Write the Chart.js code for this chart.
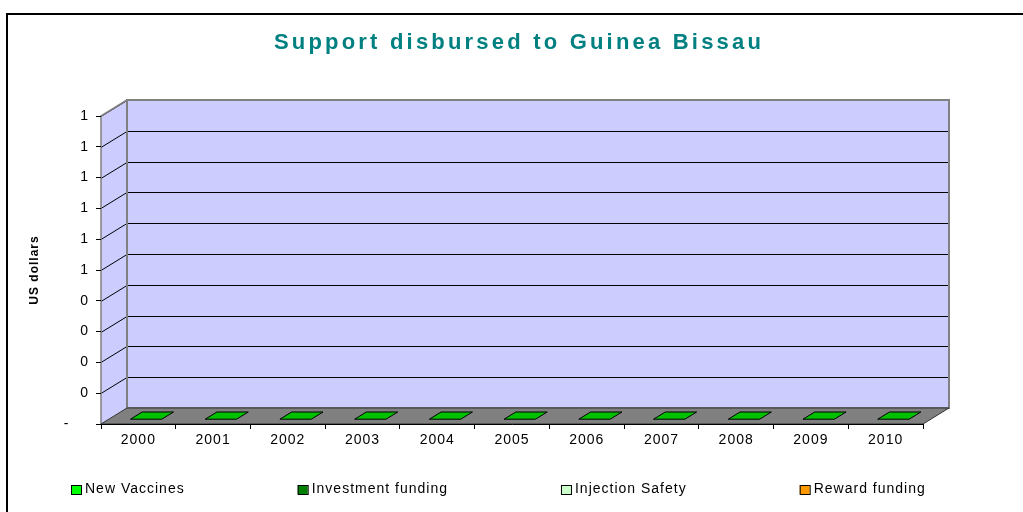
<!DOCTYPE html>
<html>
<head>
<meta charset="utf-8">
<title>Support disbursed to Guinea Bissau</title>
<script src="https://cdn.jsdelivr.net/npm/chart.js@4/dist/chart.umd.min.js"></script>
<style>
  html, body { margin: 0; padding: 0; background: #ffffff; overflow: hidden; }
  canvas { display: block; }
</style>
</head>
<body>
<canvas id="chart" width="1023" height="512"></canvas>
<script>
// Values (every series is zero)
const years = ["2000", "2001", "2002", "2003", "2004", "2005", "2006", "2007", "2008", "2009", "2010"];
const new_vaccines = [0, 0, 0, 0, 0, 0, 0, 0, 0, 0, 0];
const investment_funding = [0, 0, 0, 0, 0, 0, 0, 0, 0, 0, 0];
const injection_safety = [0, 0, 0, 0, 0, 0, 0, 0, 0, 0, 0];
const reward_funding = [0, 0, 0, 0, 0, 0, 0, 0, 0, 0, 0];
const y_max = 1;
const y_step = 0.1;

const chart_title = "Support disbursed to Guinea Bissau";
const font_family = "Arial, 'Liberation Sans', sans-serif";

// 3D look: offset of the back wall from the front plane
const depth_x = 26;
const depth_y = -16;

function show_error(e) {
  console.error(e);
}

function y_label(value) {
  if (value === 0) {
    return "-    ";
  }
  return Math.round(value).toLocaleString("en-US");
}

const walls_plugin = {
  id: "walls",
  beforeDraw(chart) {
    const ctx = chart.ctx;
    const area = chart.chartArea;
    const y_scale = chart.scales.y;
    const left = area.left;
    const right = area.right;
    const top = y_scale.getPixelForValue(y_max);
    const bottom = y_scale.getPixelForValue(0);

    ctx.save();
    ctx.fillStyle = "#ffffff";
    ctx.fillRect(0, 0, chart.width, chart.height);

    // outer frame
    ctx.strokeStyle = "#000000";
    ctx.lineWidth = 2;
    ctx.strokeRect(7, 14, chart.width + 50, chart.height + 50);

    // back wall
    ctx.fillStyle = "#ccccff";
    ctx.fillRect(left + depth_x, top + depth_y, right - left, bottom - top);

    // side wall
    ctx.beginPath();
    ctx.moveTo(left, top);
    ctx.lineTo(left + depth_x, top + depth_y);
    ctx.lineTo(left + depth_x, bottom + depth_y);
    ctx.lineTo(left, bottom);
    ctx.closePath();
    ctx.fill();

    // grid lines on both walls
    ctx.strokeStyle = "#000000";
    ctx.lineWidth = 1;
    y_scale.ticks.forEach(function (tick) {
      if (tick.value <= 0) {
        return;
      }
      const py = Math.round(y_scale.getPixelForValue(tick.value)) + 0.5;
      ctx.beginPath();
      ctx.moveTo(left, py);
      ctx.lineTo(left + depth_x, py + depth_y);
      ctx.lineTo(right + depth_x, py + depth_y);
      ctx.stroke();
    });

    // wall outlines
    ctx.strokeStyle = "#808080";
    ctx.lineWidth = 2;
    ctx.strokeRect(left + depth_x, top + depth_y, right - left, bottom - top);
    ctx.lineWidth = 1.5;
    ctx.beginPath();
    ctx.moveTo(left, bottom);
    ctx.lineTo(left, top);
    ctx.lineTo(left + depth_x, top + depth_y);
    ctx.stroke();

    // floor
    ctx.fillStyle = "#808080";
    ctx.strokeStyle = "#333333";
    ctx.lineWidth = 1;
    ctx.beginPath();
    ctx.moveTo(left, bottom);
    ctx.lineTo(left + depth_x, bottom + depth_y);
    ctx.lineTo(right + depth_x, bottom + depth_y);
    ctx.lineTo(right, bottom);
    ctx.closePath();
    ctx.fill();
    ctx.stroke();
    ctx.restore();

    // spacing used by every label drawn after this point
    ctx.letterSpacing = "1px";
  },
  afterDatasetsDraw(chart) {
    // flat top faces of the (zero height) stacked columns
    const ctx = chart.ctx;
    const meta = chart.getDatasetMeta(0);
    const near = 0.3;
    const far = 0.75;
    ctx.save();
    ctx.fillStyle = "#00c000";
    ctx.strokeStyle = "#000000";
    ctx.lineWidth = 1;
    meta.data.forEach(function (bar) {
      const half = bar.width / 2;
      ctx.beginPath();
      ctx.moveTo(bar.x - half + depth_x * near, bar.y + depth_y * near);
      ctx.lineTo(bar.x + half + depth_x * near, bar.y + depth_y * near);
      ctx.lineTo(bar.x + half + depth_x * far, bar.y + depth_y * far);
      ctx.lineTo(bar.x - half + depth_x * far, bar.y + depth_y * far);
      ctx.closePath();
      ctx.fill();
      ctx.stroke();
    });
    ctx.restore();
  },
  afterDraw(chart) {
    const ctx = chart.ctx;

    // title
    ctx.save();
    ctx.letterSpacing = "3.2px";
    ctx.font = "bold 22px " + font_family;
    ctx.fillStyle = "#008080";
    ctx.textAlign = "center";
    ctx.textBaseline = "middle";
    ctx.fillText(chart_title, 519, 43);
    ctx.restore();

    // legend along the bottom
    ctx.save();
    ctx.letterSpacing = "1px";
    ctx.font = "14px " + font_family;
    ctx.textAlign = "left";
    ctx.textBaseline = "middle";
    let x = 71;
    const y = 489;
    chart.data.datasets.forEach(function (ds) {
      ctx.fillStyle = ds.backgroundColor;
      ctx.fillRect(x, 485, 10, 9);
      ctx.strokeStyle = "#000000";
      ctx.lineWidth = 1;
      ctx.strokeRect(x + 0.5, 485.5, 10, 9);
      ctx.fillStyle = "#000000";
      ctx.fillText(ds.label, x + 14, y);
      x += 14 + ctx.measureText(ds.label).width + 113;
    });
    ctx.restore();
  },
};

document.addEventListener("DOMContentLoaded", function () {
  try {
    Chart.defaults.font.family = font_family;
    Chart.defaults.color = "#000000";

    const ctx = document.getElementById("chart").getContext("2d");
    new Chart(ctx, {
      type: "bar",
      data: {
        labels: years,
        datasets: [
          { label: "New Vaccines", data: new_vaccines, backgroundColor: "#00ff00" },
          { label: "Investment funding", data: investment_funding, backgroundColor: "#008000" },
          { label: "Injection Safety", data: injection_safety, backgroundColor: "#ccffcc" },
          { label: "Reward funding", data: reward_funding, backgroundColor: "#ff9900" },
        ],
      },
      options: {
        responsive: false,
        animation: false,
        events: [],
        borderWidth: 0,
        categoryPercentage: 1,
        barPercentage: 0.42,
        layout: {
          padding: { top: 116, right: 100, bottom: 58, left: 20 },
        },
        plugins: {
          legend: { display: false },
          title: { display: false },
          tooltip: { enabled: false },
        },
        scales: {
          x: {
            stacked: true,
            offset: true,
            grid: {
              offset: true,
              drawOnChartArea: false,
              tickLength: 5,
              color: "#000000",
            },
            border: { display: true, color: "#000000" },
            ticks: {
              padding: 3,
              maxRotation: 0,
              autoSkip: false,
              font: { size: 14 },
            },
            afterFit: function (scale) {
              scale.height = 30;
            },
          },
          y: {
            stacked: true,
            min: 0,
            max: y_max,
            grid: {
              drawOnChartArea: false,
              tickLength: 5,
              color: "#000000",
            },
            border: { display: false },
            ticks: {
              stepSize: y_step,
              padding: 7,
              font: { size: 14 },
              callback: y_label,
            },
            title: {
              display: true,
              text: "US dollars",
              font: { size: 12, weight: "bold" },
              padding: { top: 7, bottom: 0 },
            },
            afterFit: function (scale) {
              scale.width = 81;
            },
          },
        },
      },
      plugins: [walls_plugin],
    });
  } catch (e) {
    show_error(e);
  }
});
</script>
</body>
</html>
